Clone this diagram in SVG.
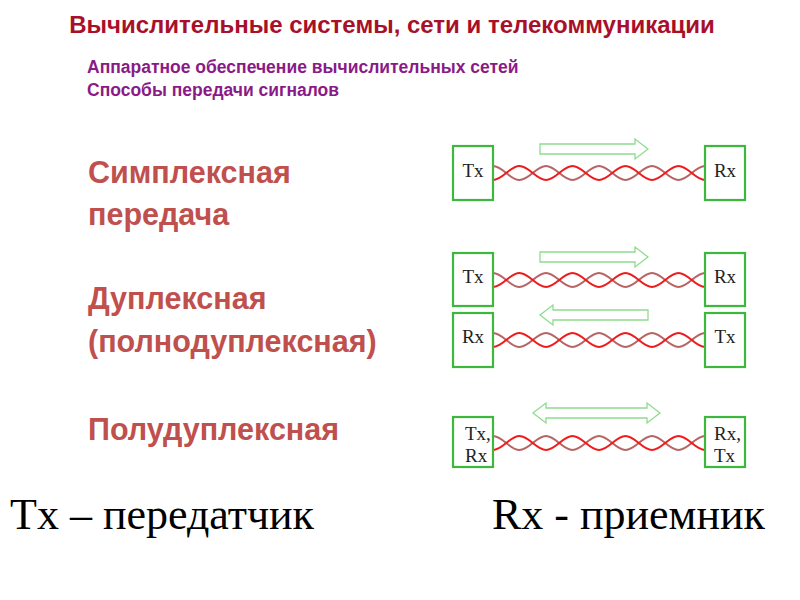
<svg xmlns="http://www.w3.org/2000/svg" xmlns:xlink="http://www.w3.org/1999/xlink" width="800" height="600" viewBox="0 0 800 600">
<style>
.title{font-family:"Liberation Sans",Arial,sans-serif;font-weight:bold;font-size:24px;fill:#a8102a}
.sub{font-family:"Liberation Sans",Arial,sans-serif;font-weight:bold;font-size:17.5px;fill:#8a1a86}
.lbl{font-family:"Liberation Sans",Arial,sans-serif;font-weight:bold;font-size:30.5px;fill:#c0504d}
.big{font-family:"Liberation Serif","Times New Roman",serif;font-size:44px;fill:#000}
.box{fill:#fff;stroke:#3cb93c;stroke-width:2.2}
.bt{font-family:"Liberation Serif","Times New Roman",serif;font-size:19px;fill:#222;text-anchor:middle}
.bl{font-family:"Liberation Serif","Times New Roman",serif;font-size:19px;fill:#222}
.arr{fill:#fff;stroke:#8fdc8f;stroke-width:1.3}
.w1{fill:none;stroke:#ee1c1c;stroke-width:2}
.w2{fill:none;stroke:#b86464;stroke-width:2}
</style>
<defs>
<g id="twist">
<path class="w2" d="M0,-7 C9.6,-7 16.9,7 26.5,7 S43.4,-7 53,-7 S69.9,7 79.5,7 S96.4,-7 106,-7 S122.9,7 132.5,7 S149.4,-7 159,-7 S175.9,7 185.5,7 S202.4,-7 212,-7"/>
<path class="w1" d="M0,7 C9.6,7 16.9,-7 26.5,-7 S43.4,7 53,7 S69.9,-7 79.5,-7 S96.4,7 106,7 S122.9,-7 132.5,-7 S149.4,7 159,7 S175.9,-7 185.5,-7 S202.4,7 212,7"/>
</g>
<path id="rarrow" class="arr" d="M0,-5 H95 V-10 L108,0 L95,10 V5 H0 Z"/>
<path id="darrow" class="arr" d="M0,0 L13,-10 V-5 H114 V-10 L127,0 L114,10 V5 H13 V10 Z"/>
</defs>
<rect width="800" height="600" fill="#fff"/>

<text class="title" x="392" y="33" text-anchor="middle">Вычислительные системы, сети и телекоммуникации</text>
<text class="sub" x="87" y="73">Аппаратное обеспечение вычислительных сетей</text>
<text class="sub" x="87" y="96">Способы передачи сигналов</text>

<text class="lbl" x="88" y="183">Симплексная</text>
<text class="lbl" x="88" y="225">передача</text>
<text class="lbl" x="88" y="309">Дуплексная</text>
<text class="lbl" x="88" y="352">(полнодуплексная)</text>
<text class="lbl" x="88" y="440">Полудуплексная</text>

<g id="connectors">
<use xlink:href="#twist" transform="translate(493,173)"/>
<use xlink:href="#twist" transform="translate(493,280)"/>
<use xlink:href="#twist" transform="translate(493,340)"/>
<use xlink:href="#twist" transform="translate(493,443)"/>
<use xlink:href="#rarrow" transform="translate(540,149)"/>
<use xlink:href="#rarrow" transform="translate(540,257)"/>
<use xlink:href="#rarrow" transform="translate(648,315) scale(-1,1)"/>
<use xlink:href="#darrow" transform="translate(533,413)"/>
</g>

<g id="s-tx"><rect class="box" x="453" y="146" width="40" height="54"/><text class="bt" x="473" y="177">Tx</text></g>
<g id="s-rx"><rect class="box" x="705" y="146" width="40" height="54"/><text class="bt" x="725" y="177">Rx</text></g>

<g id="d1-tx"><rect class="box" x="453" y="253" width="40" height="53"/><text class="bt" x="473" y="283">Tx</text></g>
<g id="d1-rx"><rect class="box" x="705" y="253" width="40" height="53"/><text class="bt" x="725" y="283">Rx</text></g>
<g id="d2-rx"><rect class="box" x="453" y="313" width="40" height="54"/><text class="bt" x="473" y="343">Rx</text></g>
<g id="d2-tx"><rect class="box" x="705" y="313" width="40" height="54"/><text class="bt" x="725" y="343">Tx</text></g>

<g id="h-left"><rect class="box" x="453" y="417" width="40" height="50"/><text class="bl" x="465" y="440">Tx,</text><text class="bl" x="465" y="462">Rx</text></g>
<g id="h-right"><rect class="box" x="705" y="417" width="40" height="50"/><text class="bl" x="714" y="440">Rx,</text><text class="bl" x="714" y="462">Tx</text></g>

<text class="big" x="10" y="529">Tx – передатчик</text>
<text class="big" x="492" y="529">Rx - приемник</text>
</svg>
